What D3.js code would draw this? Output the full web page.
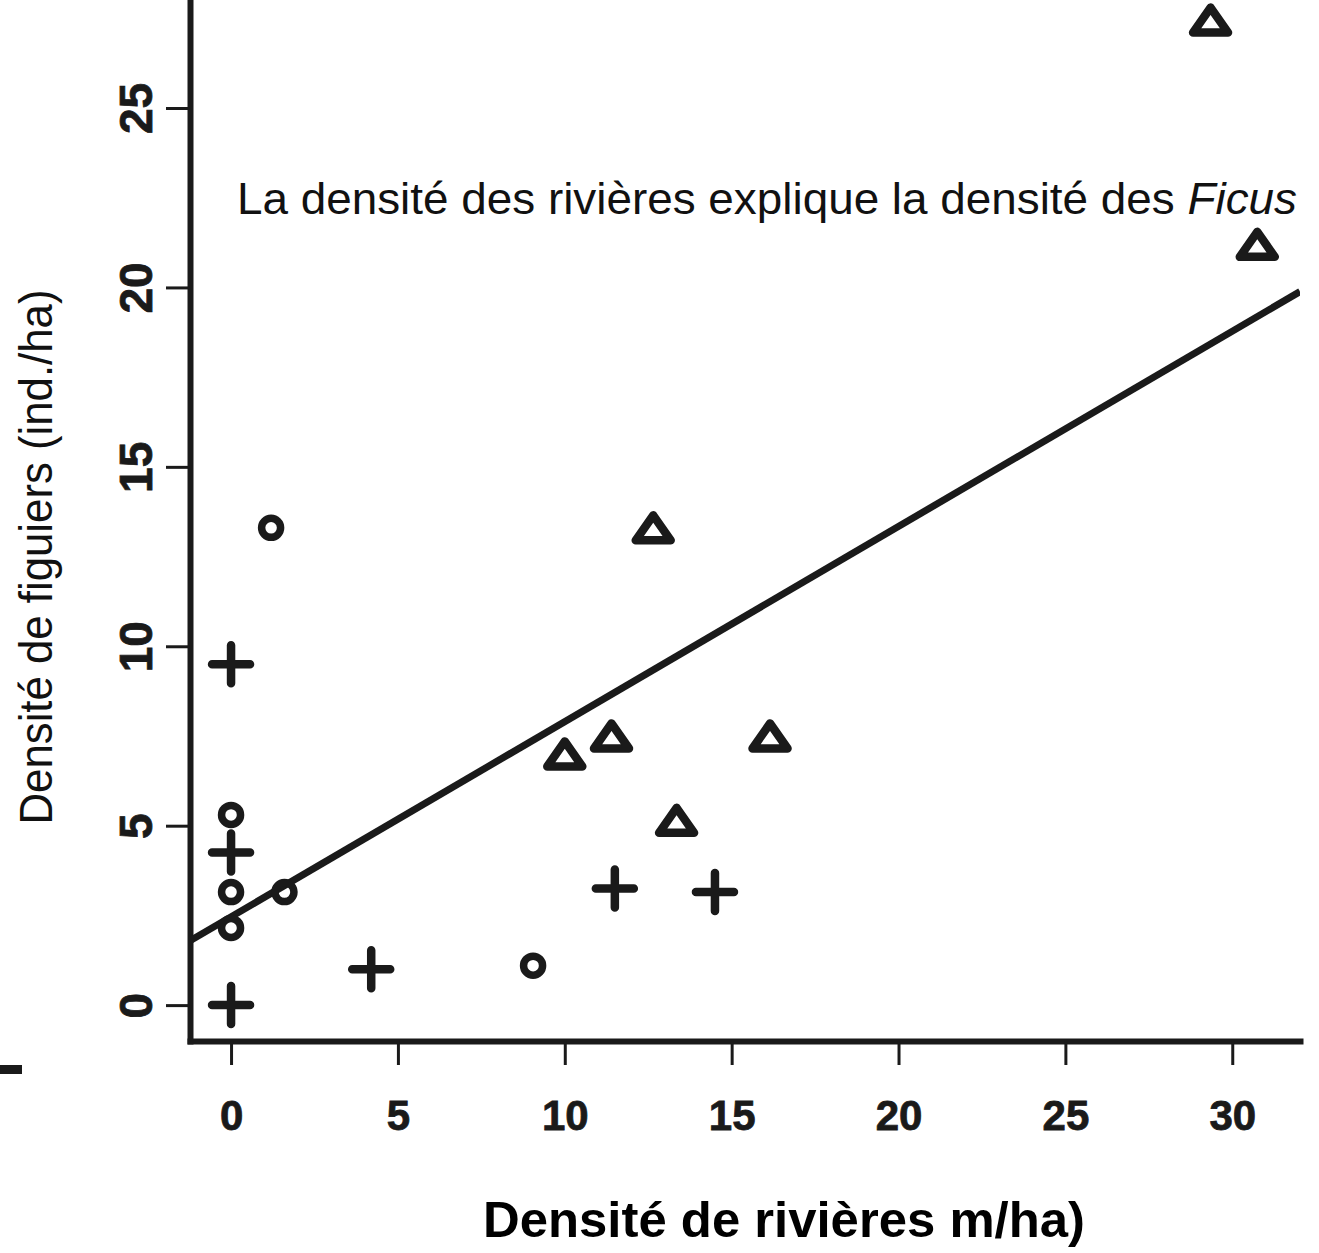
<!DOCTYPE html>
<html>
<head>
<meta charset="utf-8">
<script src="https://cdn.jsdelivr.net/npm/d3@7"></script>
<style>
  body { margin: 0; background: #fff; }
  svg { display: block; }
</style>
</head>
<body>
<svg id="chart"></svg>
<script>
// points
const circleX = [1.2, 0, 0, 0, 1.6, 9.05];
const circleY = [13.3, 5.3, 3.15, 2.15, 3.15, 1.1];
const plusX = [0, 0, 0, 4.2, 11.5, 14.5];
const plusY = [9.5, 4.25, 0, 1.0, 3.25, 3.15];
const triX = [29.35, 30.75, 12.65, 10.0, 11.4, 16.15, 13.35];
const triY = [27.45, 21.2, 13.3, 7.0, 7.5, 7.5, 5.15];
const xTicks = [0, 5, 10, 15, 20, 25, 30];
const yTicks = [0, 5, 10, 15, 20, 25];
const fitLine = [2.46, 0.544]; // intercept, slope

const width = 1319, height = 1253;
const svg = d3.select("#chart").attr("width", width).attr("height", height);

const x = d3.scaleLinear().domain([-1.23, 32.03]).range([190, 1300]);
const y = d3.scaleLinear().domain([-1.0, 28.01]).range([1041, 0]);

svg.append("clipPath").attr("id", "plotclip")
    .append("rect")
    .attr("x", x.range()[0]).attr("y", y.range()[1])
    .attr("width", x.range()[1] - x.range()[0])
    .attr("height", y.range()[0] - y.range()[1]);

const ink = "#1a1a1a";

// axes
const xAxis = svg.append("g")
    .attr("transform", `translate(0,${y.range()[0]})`)
    .call(d3.axisBottom(x).tickValues(xTicks).tickSize(24).tickSizeOuter(0));
const yAxis = svg.append("g")
    .attr("transform", `translate(${x.range()[0]},0)`)
    .call(d3.axisLeft(y).tickValues(yTicks).tickSize(24).tickSizeOuter(0));

[xAxis, yAxis].forEach(g => {
    g.select(".domain").attr("stroke", ink).attr("stroke-width", 6).attr("stroke-linecap", "square");
    g.selectAll(".tick line").attr("stroke", ink).attr("stroke-width", 3);
    g.selectAll(".tick text")
        .attr("fill", ink)
        .attr("stroke", ink).attr("stroke-width", 0.8)
        .style("font-family", "'Liberation Sans', Arial, sans-serif")
        .style("font-weight", "bold");
});
xAxis.selectAll(".tick text").attr("y", 89).attr("dy", 0).style("font-size", "42px");
yAxis.selectAll(".tick text")
    .attr("x", 0).attr("dy", 0)
    .attr("text-anchor", "middle")
    .attr("transform", "translate(-38,0) rotate(-90)")
    .style("font-size", "46px");

// regression line
svg.append("path")
    .attr("clip-path", "url(#plotclip)")
    .attr("d", d3.line()([x.domain()[0], x.domain()[1]].map(v => [x(v), y(fitLine[0] + fitLine[1] * v)])))
    .attr("stroke", ink).attr("stroke-width", 7).attr("fill", "none");

// circles
svg.append("g").selectAll("circle")
    .data(d3.zip(circleX, circleY))
    .join("circle")
    .attr("cx", d => x(d[0])).attr("cy", d => y(d[1]))
    .attr("r", 9.5)
    .attr("fill", "none").attr("stroke", ink).attr("stroke-width", 7.5);

// pluses
svg.append("g").selectAll("path")
    .data(d3.zip(plusX, plusY))
    .join("path")
    .attr("d", d => {
        const cx = x(d[0]), cy = y(d[1]), h = 19;
        return `M${cx - h},${cy}H${cx + h}M${cx},${cy - h}V${cy + h}`;
    })
    .attr("fill", "none").attr("stroke", ink).attr("stroke-width", 8.5).attr("stroke-linecap", "round");

// triangles
svg.append("g").selectAll("path")
    .data(d3.zip(triX, triY))
    .join("path")
    .attr("d", d => {
        const cx = x(d[0]), cy = y(d[1]), w = 17.5, h = 12.5;
        return `M${cx},${cy - h}L${cx + w},${cy + h}L${cx - w},${cy + h}Z`;
    })
    .attr("fill", "none").attr("stroke", ink).attr("stroke-width", 8.5).attr("stroke-linejoin", "round");

// annotation
const note = svg.append("text")
    .attr("x", 237).attr("y", 214)
    .attr("textLength", 1060).attr("lengthAdjust", "spacingAndGlyphs")
    .style("font-family", "'Liberation Sans', Arial, sans-serif")
    .style("font-size", "45px")
    .attr("fill", "#111");
note.append("tspan").text("La densité des rivières explique la densité des ");
note.append("tspan").style("font-style", "italic").text("Ficus");

// axis titles
svg.append("text")
    .attr("x", 784).attr("y", 1237)
    .attr("text-anchor", "middle")
    .attr("textLength", 602).attr("lengthAdjust", "spacingAndGlyphs")
    .style("font-family", "'Liberation Sans Narrow', 'Liberation Sans', Arial, sans-serif")
    .style("font-weight", "bold")
    .style("font-size", "50px")
    .text("Densité de rivières m/ha)");

svg.append("text")
    .attr("transform", "translate(52,557) rotate(-90)")
    .attr("text-anchor", "middle")
    .attr("textLength", 535).attr("lengthAdjust", "spacingAndGlyphs")
    .style("font-family", "'Liberation Sans', Arial, sans-serif")
    .style("font-size", "46px")
    .attr("fill", "#111")
    .text("Densité de figuiers (ind./ha)");

// leftover bits of the cropped original picture
svg.append("rect").attr("x", 0).attr("y", 1065).attr("width", 22).attr("height", 9).attr("fill", ink);
</script>
</body>
</html>
